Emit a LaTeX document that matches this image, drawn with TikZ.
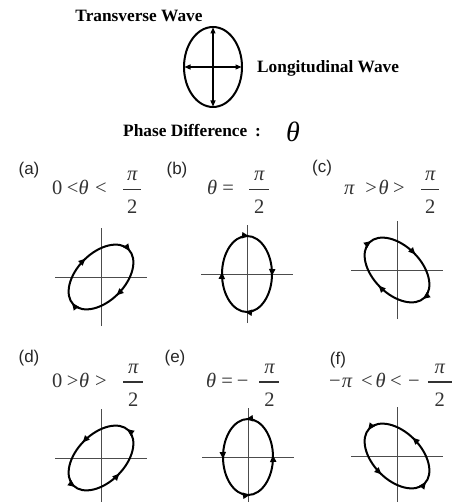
\documentclass[tikz,border=0pt]{standalone}
\usepackage{fontspec}
\setmainfont{Liberation Serif}
\newfontfamily\labfont{Liberation Sans}
\usetikzlibrary{arrows.meta,decorations.markings,shapes.geometric}

\newcommand\thet{\textit{θ}}
\newcommand\ppi{\textit{π}}
\newcommand\pfrw[1]{\raisebox{-19.5pt}{\vbox{\offinterlineskip\hbox to #1{\hss\itshape π\hss}\kern 7.8pt\hbox{\rule{#1}{1.4pt}}\kern 10.4pt\hbox to #1{\hss 2\hss}}}}
\newcommand\pfr{\pfrw{18pt}}

\tikzset{
  title/.style={font=\fontsize{17.3}{19}\selectfont\bfseries, inner sep=0pt},
  lbl/.style={font=\labfont\fontsize{17}{19}\selectfont, inner sep=0pt, text=black!85},
  frm/.style={font=\fontsize{20.5}{22}\selectfont, inner sep=0pt, anchor=base west, text=black!80},
  ax/.style={line width=0.9pt, black!70},
  orb/.style={line width=2pt},
  tip/.tip={Triangle[length=7pt,width=6pt]},
  marks/.style={postaction={decorate}, decoration={markings,
     mark=at position 0.01 with {\arrow{tip}},
     mark=at position 0.26 with {\arrow{tip}},
     mark=at position 0.51 with {\arrow{tip}},
     mark=at position 0.76 with {\arrow{tip}}}},
  ccw/.style={marks},
  cw/.style={marks, yscale=-1},
  dbl/.style={{Triangle[length=6pt,width=5pt]}-{Triangle[length=6pt,width=5pt]}, line width=1.1pt, shorten >=0.5pt, shorten <=0.5pt},
}

\begin{document}
\begin{tikzpicture}[x=1pt,y=1pt]
\useasboundingbox (0,0) rectangle (464,-502);

% top diagram
\node[title] (tw) at (139,-16) {Transverse Wave};
\node[draw, ellipse, line width=2pt, minimum width=58pt, minimum height=80pt, inner sep=0pt, outer sep=0pt] (E) at (213,-67) {};
\draw[dbl] (E.north) -- (E.south);
\draw[dbl] (E.west) -- (E.east);
\node[title, anchor=west] (lw) at (257,-68) {Longitudinal Wave};
\node[title, anchor=base west] (pd) at (123,-137) {Phase Difference\hspace{0.45em}:};
\node[anchor=base west, inner sep=0pt, font=\fontsize{28}{30}\selectfont\itshape] (th) at (286,-142) {θ};

% labels
\node[lbl] (la) at (29,-170) {(a)};
\node[lbl] (lb) at (177,-170) {(b)};
\node[lbl] (lc) at (322,-168) {(c)};
\node[lbl] (ld) at (29,-358) {(d)};
\node[lbl] (le) at (175,-358) {(e)};
\node[lbl] (lf) at (338,-360) {(f)};

% formulas
\node[frm] (fa) at (52,-194.5) {0\hspace{4.5pt}<\hspace{0pt}\thet\hspace{6.5pt}<\hspace{16.5pt}\pfr};
\node[frm] (fb) at (207,-194.5) {\thet\hspace{5pt}=\hspace{15.5pt}\pfrw{20pt}};
\node[frm] (fc) at (344,-194.5) {\ppi\hspace{10.5pt}>\hspace{1.5pt}\thet\hspace{4.5pt}>\hspace{16.5pt}\pfr};
\node[frm] (fd) at (52,-387) {0\hspace{4.5pt}>\hspace{0.5pt}\thet\hspace{6pt}>\hspace{16.5pt}\pfrw{20pt}};
\node[frm] (fe) at (206,-387) {\thet\hspace{5pt}=\hspace{4pt}−\hspace{11pt}\pfrw{20pt}};
\node[frm] (ff) at (329,-387) {−\hspace{1pt}\ppi\hspace{8.5pt}<\hspace{3pt}\thet\hspace{4.5pt}<\hspace{6.5pt}−\hspace{8pt}\pfrw{24pt}};

% plots
\begin{scope}[shift={(101,-277)}]
  \draw[ax] (-46,0) -- (46,0);
  \draw[ax] (0,-49) -- (0,49);
  \draw[orb, rotate=45, cw] (0,0) ellipse (39 and 24);
\end{scope}
\begin{scope}[shift={(247,-274)}]
  \draw[ax] (-46,0) -- (46,0);
  \draw[ax] (0,-49) -- (0,49);
  \draw[orb, cw] (0,0) ellipse (25 and 38);
\end{scope}
\begin{scope}[shift={(397,-270)}]
  \draw[ax] (-46,0) -- (46,0);
  \draw[ax] (0,-49) -- (0,49);
  \draw[orb, rotate=-45, cw] (0,0) ellipse (39 and 24);
\end{scope}
\begin{scope}[shift={(101,-458)}]
  \draw[ax] (-46,0) -- (46,0);
  \draw[ax] (0,-49) -- (0,49);
  \draw[orb, rotate=45, ccw] (0,0) ellipse (39 and 24);
\end{scope}
\begin{scope}[shift={(248,-457)}]
  \draw[ax] (-46,0) -- (46,0);
  \draw[ax] (0,-49) -- (0,49);
  \draw[orb, ccw] (0,0) ellipse (25 and 38);
\end{scope}
\begin{scope}[shift={(397,-456)}]
  \draw[ax] (-46,0) -- (46,0);
  \draw[ax] (0,-49) -- (0,49);
  \draw[orb, rotate=-45, ccw] (0,0) ellipse (39 and 24);
\end{scope}
\end{tikzpicture}
\end{document}
